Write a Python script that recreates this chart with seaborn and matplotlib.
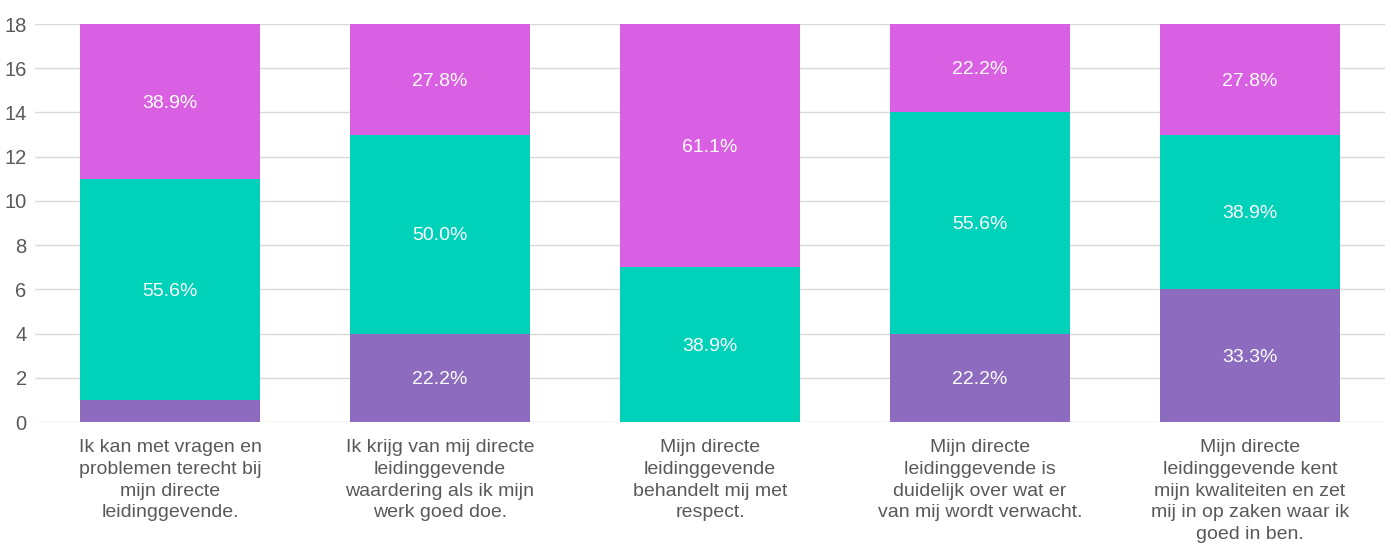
import numpy as np
import pandas as pd
import matplotlib
matplotlib.use("Agg")
import matplotlib.pyplot as plt
import seaborn as sns

categories = [
    "Ik kan met vragen en\nproblemen terecht bij\nmijn directe\nleidinggevende.",
    "Ik krijg van mij directe\nleidinggevende\nwaardering als ik mijn\nwerk goed doe.",
    "Mijn directe\nleidinggevende\nbehandelt mij met\nrespect.",
    "Mijn directe\nleidinggevende is\nduidelijk over wat er\nvan mij wordt verwacht.",
    "Mijn directe\nleidinggevende kent\nmijn kwaliteiten en zet\nmij in op zaken waar ik\ngoed in ben.",
]
purple_vals = [1, 4, 0, 4, 6]
teal_vals = [10, 9, 7, 10, 7]
pink_vals = [7, 5, 11, 4, 5]
y_ticks = [0, 2, 4, 6, 8, 10, 12, 14, 16, 18]

c_purple = "#8D6BBE"
c_teal = "#00D1B9"
c_pink = "#D960E2"
txt = "#595959"

sns.set_theme(style="white")
plt.rcParams["font.family"] = ["Liberation Sans", "DejaVu Sans"]

df = pd.DataFrame({
    "cat": categories,
    "purple": purple_vals,
    "teal": teal_vals,
    "pink": pink_vals,
})
df["c1"] = df["purple"]
df["c2"] = df["purple"] + df["teal"]
df["c3"] = df["c2"] + df["pink"]

fig = plt.figure(figsize=(13.91, 5.49), dpi=100)
ax = fig.add_axes([35/1391, 127/549, 1350/1391, 398/549])

for col, color in [("c3", c_pink), ("c2", c_teal), ("c1", c_purple)]:
    sns.barplot(data=df, x="cat", y=col, color=color, width=0.667,
                saturation=1, ax=ax, zorder=3, linewidth=0, edgecolor="none")

total = df["c3"].values
for i in range(len(df)):
    bottoms = [0, df["c1"][i], df["c2"][i]]
    vals = [df["purple"][i], df["teal"][i], df["pink"][i]]
    for b, v in zip(bottoms, vals):
        if v >= 2:
            ax.text(i, b + v / 2 - 0.08, f"{v / total[i] * 100:.1f}%", ha="center",
                    va="center", color="white", fontsize=14, zorder=5)

ax.set_ylim(0, 18)
ax.set_xlim(-0.5, len(df) - 0.5)
ax.set_yticks(y_ticks)
ax.yaxis.grid(True, color="#d9d9d9", linewidth=1, zorder=0)
ax.set_axisbelow(True)
for s in ax.spines.values():
    s.set_visible(False)
ax.set_xlabel("")
ax.set_ylabel("")
ax.tick_params(axis="y", length=0, pad=6, labelsize=14.5, labelcolor=txt)
ax.tick_params(axis="x", length=0, pad=12, labelsize=14, labelcolor=txt)
for lab in ax.get_xticklabels():
    lab.set_linespacing(1.38)

fig.savefig("out.png", dpi=100)
